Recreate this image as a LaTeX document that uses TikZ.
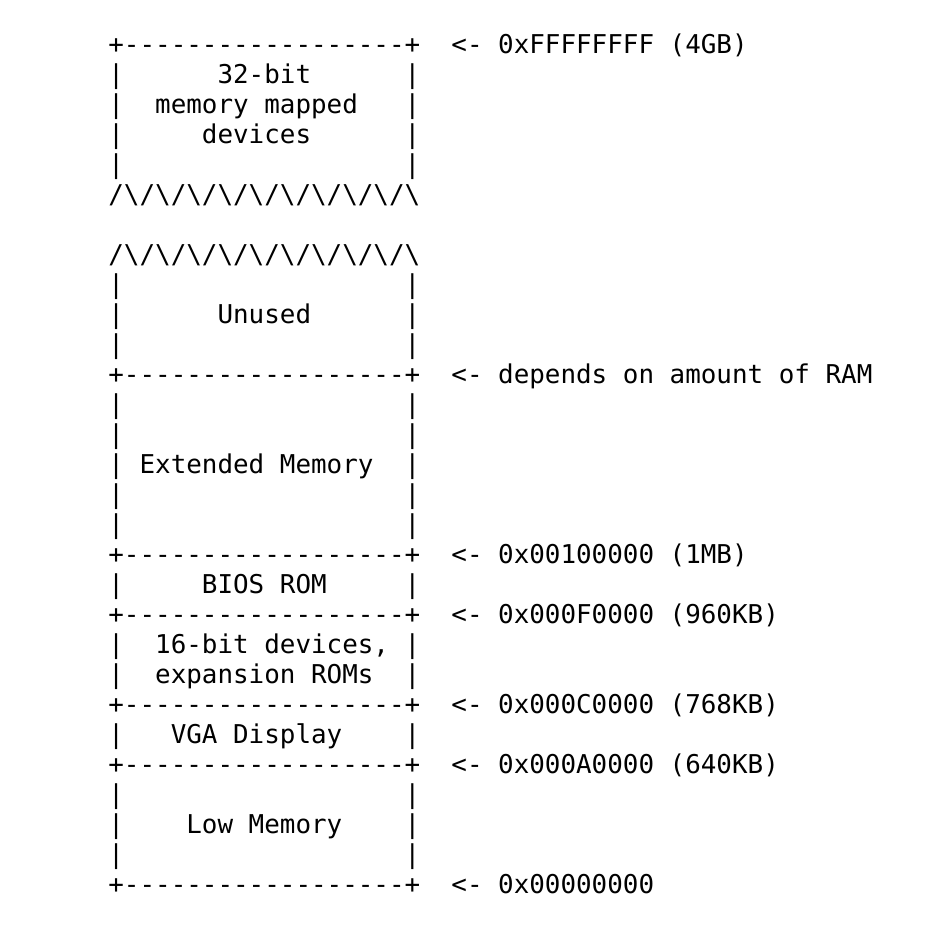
\documentclass[tikz,border=0pt]{standalone}
\usepackage{fontspec}
\setmonofont{DejaVu Sans Mono}

\newcommand{\rowrule}{+------------------+}
\newcommand{\rowgap}{|~~~~~~~~~~~~~~~~~~|}
\newcommand{\zz}{/\textbackslash}
\newcommand{\rowzig}{\zz\zz\zz\zz\zz\zz\zz\zz\zz\zz}

\tikzset{row/.style={anchor=base west, inner sep=0pt,
    font=\ttfamily\fontsize{12.95}{15}\selectfont}}

\begin{document}
\begin{tikzpicture}[x=0.5pt, y=-0.5pt]
    \useasboundingbox (0,0) rectangle (936,926);
    \coordinate (O) at (108,53);
    % 32-bit devices
    \node (top)   at ([yshift=0]O)    [row] {\rowrule~~<-~0xFFFFFFFF~(4GB)};
    \node (dev1)  at (108,83)  [row] {|~~~~~~32-bit~~~~~~|};
    \node (dev2)  at (108,113) [row] {|~~memory~mapped~~~|};
    \node (dev3)  at (108,143) [row] {|~~~~~devices~~~~~~|};
    \node (dev4)  at (108,173) [row] {\rowgap};
    \node (cut1)  at (108,203) [row] {\rowzig};
    % unused
    \node (cut2)  at (108,263) [row] {\rowzig};
    \node (un1)   at (108,293) [row] {\rowgap};
    \node (un2)   at (108,323) [row] {|~~~~~~Unused~~~~~~|};
    \node (un3)   at (108,353) [row] {\rowgap};
    \node (ram)   at (108,383) [row] {\rowrule~~<-~depends~on~amount~of~RAM};
    % extended memory
    \node (ext1)  at (108,413) [row] {\rowgap};
    \node (ext2)  at (108,443) [row] {\rowgap};
    \node (ext3)  at (108,473) [row] {|~Extended~Memory~~|};
    \node (ext4)  at (108,503) [row] {\rowgap};
    \node (ext5)  at (108,533) [row] {\rowgap};
    \node (mb1)   at (108,563) [row] {\rowrule~~<-~0x00100000~(1MB)};
    % bios, expansion, vga
    \node (bios)  at (108,593) [row] {|~~~~~BIOS~ROM~~~~~|};
    \node (kb960) at (108,623) [row] {\rowrule~~<-~0x000F0000~(960KB)};
    \node (exp1)  at (108,653) [row] {|~~16-bit~devices,~|};
    \node (exp2)  at (108,683) [row] {|~~expansion~ROMs~~|};
    \node (kb768) at (108,713) [row] {\rowrule~~<-~0x000C0000~(768KB)};
    \node (vga)   at (108,743) [row] {|~~~VGA~Display~~~~|};
    \node (kb640) at (108,773) [row] {\rowrule~~<-~0x000A0000~(640KB)};
    % low memory
    \node (low1)  at (108,803) [row] {\rowgap};
    \node (low2)  at (108,833) [row] {|~~~~Low~Memory~~~~|};
    \node (low3)  at (108,863) [row] {\rowgap};
    \node (zero)  at (108,893) [row] {\rowrule~~<-~0x00000000};
\end{tikzpicture}
\end{document}
